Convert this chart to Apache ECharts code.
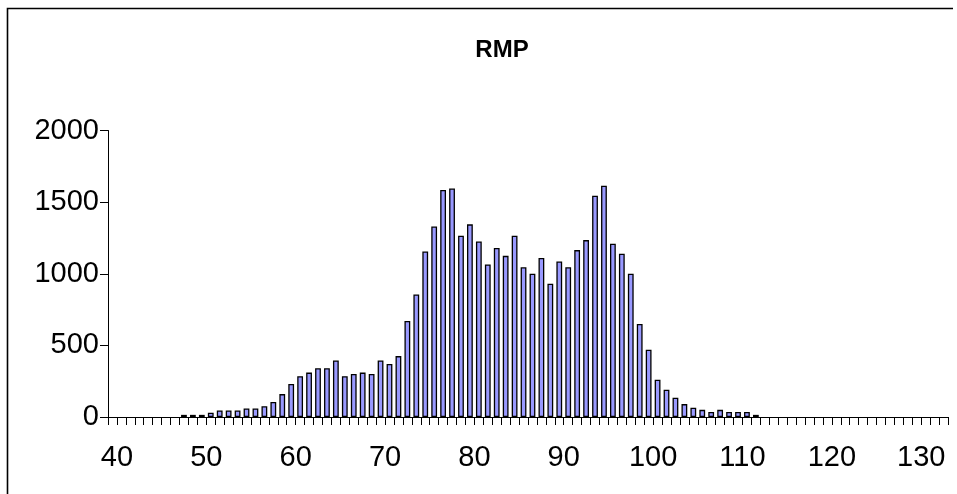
<!DOCTYPE html>
<html>
<head>
<meta charset="utf-8">
<title>RMP</title>
<script src="https://cdn.jsdelivr.net/npm/echarts@6/dist/echarts.min.js"></script>
<style>
  html, body { margin: 0; padding: 0; background: #fff; }
  #chart { width: 957px; height: 494px; }
</style>
</head>
<body>
<div id="chart"></div>
<script>
// Histogram of RMP: each bin spans [start, start + 1)
const binStarts = [
  47, 48, 49, 50, 51, 52, 53, 54, 55, 56, 57, 58, 59, 60, 61, 62, 63, 64, 65, 66,
  67, 68, 69, 70, 71, 72, 73, 74, 75, 76, 77, 78, 79, 80, 81, 82, 83, 84, 85, 86,
  87, 88, 89, 90, 91, 92, 93, 94, 95, 96, 97, 98, 99, 100, 101, 102, 103, 104, 105, 106,
  107, 108, 109, 110, 111
];
const counts = [
  15, 15, 15, 30, 45, 45, 45, 60, 60, 75, 105, 160, 230, 285, 310, 340, 340, 395, 285, 300,
  310, 300, 395, 370, 425, 670, 855, 1155, 1330, 1585, 1595, 1265, 1345, 1225, 1065, 1180, 1125, 1265, 1045, 1000,
  1110, 930, 1085, 1045, 1165, 1235, 1545, 1615, 1210, 1140, 1000, 650, 470, 260, 190, 135, 90, 65, 50, 35,
  50, 35, 35, 35, 15
];
const xLabels = [40, 50, 60, 70, 80, 90, 100, 110, 120, 130];
const yLabels = [0, 500, 1000, 1500, 2000];

const X_MIN = 39, X_MAX = 133;
const xTicks = [];
for (let v = X_MIN; v <= X_MAX; v++) xTicks.push(v);

const FONT = "'Liberation Sans', Arial, sans-serif";

const chart = echarts.init(document.getElementById('chart'), null, { renderer: 'canvas' });
chart.setOption({
  animation: false,
  backgroundColor: '#ffffff',
  title: {
    text: 'RMP',
    left: 497,
    top: 33,
    textAlign: 'center',
    textStyle: { fontFamily: FONT, fontWeight: 'bold', fontSize: 24, color: '#000' }
  },
  graphic: [{
    type: 'polyline',
    shape: { points: [[7.5, 500], [7.5, 8.5], [953, 8.5]] },
    style: { stroke: '#000', lineWidth: 1.6, fill: null },
    silent: true
  }],
  grid: { left: 108, right: 9, top: 130.5, bottom: 77, containLabel: false },
  xAxis: {
    type: 'value',
    min: X_MIN,
    max: X_MAX,
    interval: 1,
    splitLine: { show: false },
    axisLine: { show: true, onZero: false, lineStyle: { color: '#000', width: 1 } },
    axisTick: { show: true, inside: false, length: 8, customValues: xTicks, lineStyle: { color: '#000', width: 1 } },
    axisLabel: {
      customValues: xLabels,
      formatter: v => String(v),
      margin: 26,
      fontFamily: FONT,
      fontSize: 29,
      color: '#000'
    }
  },
  yAxis: {
    type: 'value',
    min: 0,
    max: 2000,
    interval: 500,
    splitLine: { show: false },
    axisLine: { show: true, lineStyle: { color: '#000', width: 1 } },
    axisTick: { show: true, length: 8, customValues: yLabels, lineStyle: { color: '#000', width: 1 } },
    axisLabel: {
      customValues: yLabels,
      formatter: v => String(v),
      margin: 9,
      fontFamily: FONT,
      fontSize: 29,
      color: '#000'
    }
  },
  series: [{
    type: 'bar',
    data: binStarts.map((s, i) => [s + 0.5, counts[i]]),
    barWidth: 5.8,
    itemStyle: { color: '#9999ff', borderColor: '#000', borderWidth: 1.3 }
  }]
});
</script>
</body>
</html>
